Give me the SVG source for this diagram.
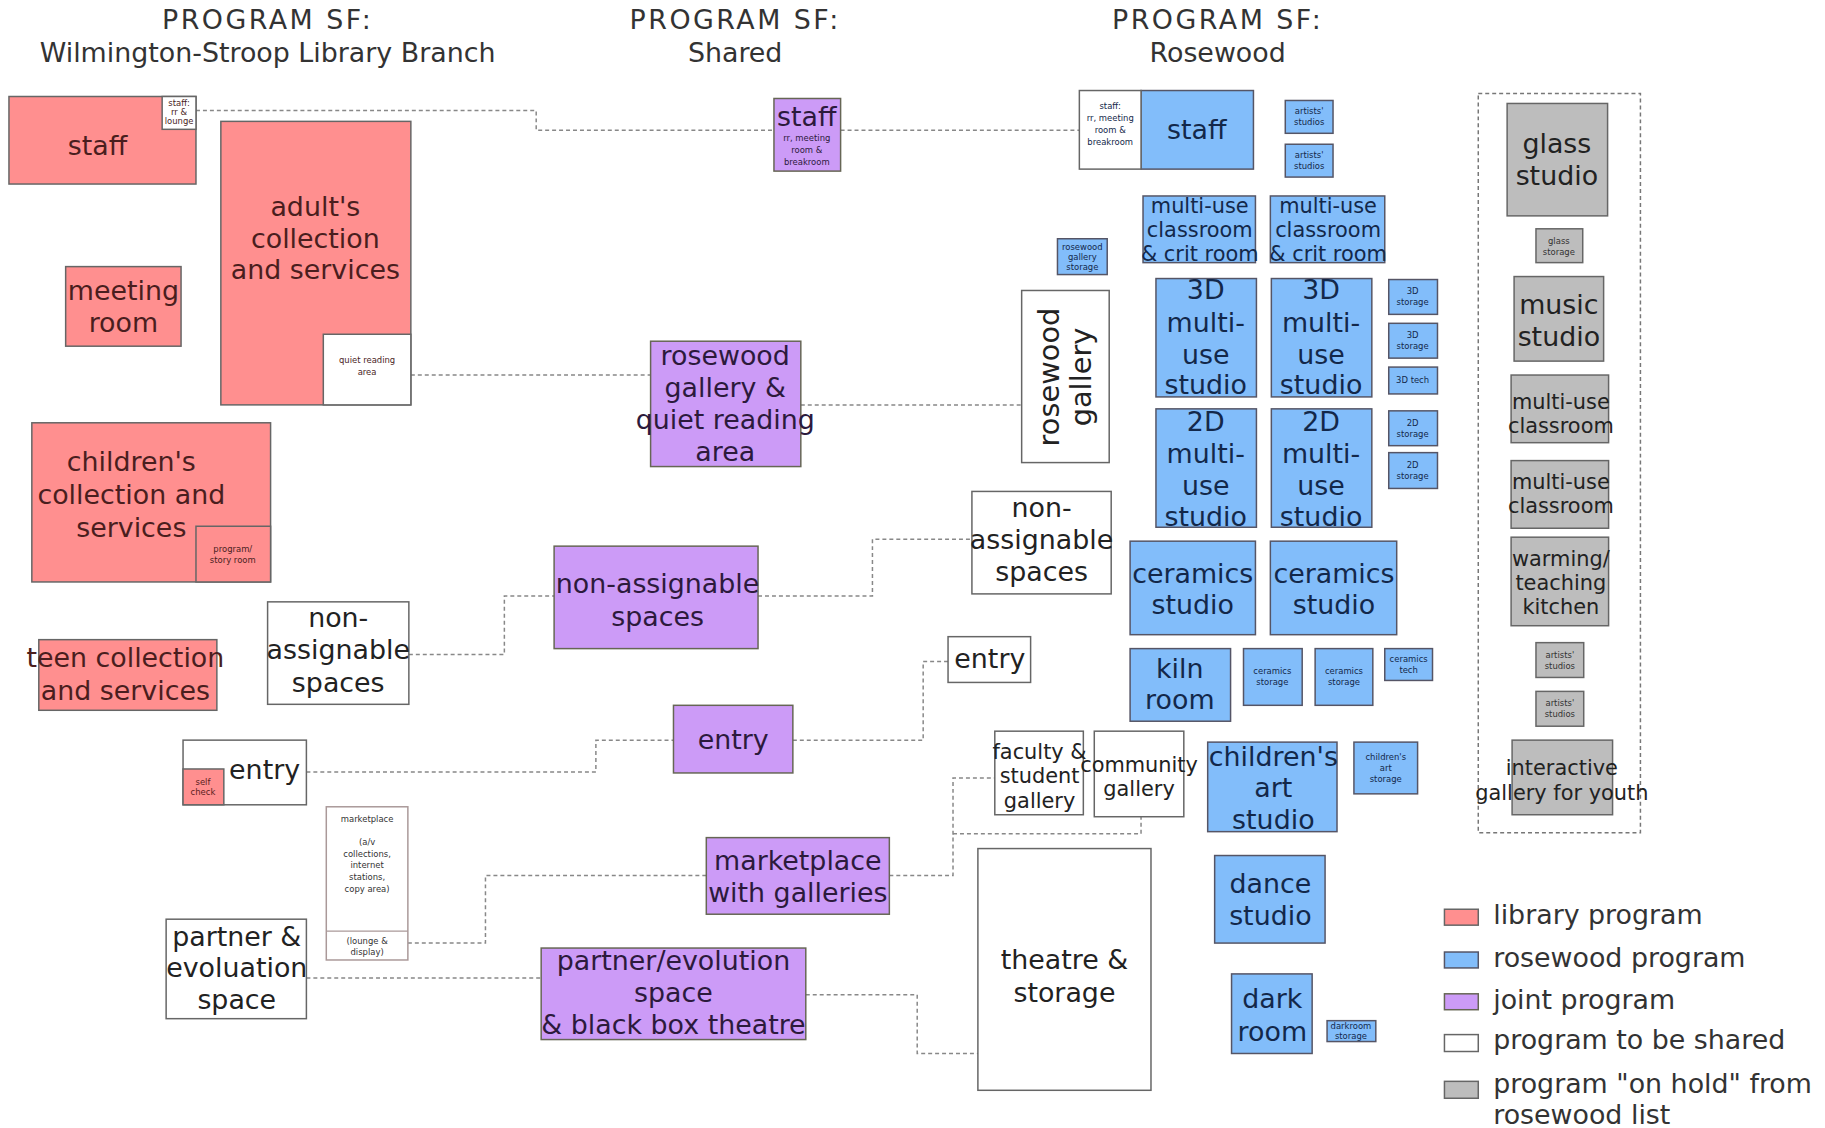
<svg xmlns="http://www.w3.org/2000/svg" width="1825" height="1128" viewBox="0 0 1825 1128">
<style>
text{font-family:"DejaVu Sans","Liberation Sans",sans-serif;text-anchor:middle;dominant-baseline:central;fill:#222}
.h{font-size:27px;fill:#333}
.hp{letter-spacing:2.5px}
.b{font-size:27px}
.m{font-size:21px}
.s{font-size:8.5px;fill:#333}
.lg{font-size:27px;text-anchor:start;dominant-baseline:alphabetic;fill:#333}
.lib{fill:#ff8f8f;stroke:#666;stroke-width:1.5}
.ros{fill:#82bdfa;stroke:#556;stroke-width:1.5}
.joi{fill:#cc9bf7;stroke:#665;stroke-width:1.5}
.sh{fill:#fff;stroke:#666;stroke-width:1.5}
.gr{fill:#bdbdbd;stroke:#666;stroke-width:1.5}
.lt text{fill:#4a1e1e}
.rt text{fill:#13284a}
.pt text{fill:#2c1a3c}
.con{fill:none;stroke:#888;stroke-width:1.5;stroke-dasharray:4 3}
</style>
<g transform="scale(0.9948)">
<g id="headers">
<text class="h hp" x="269" y="20">PROGRAM SF:</text>
<text class="h" x="269" y="53">Wilmington-Stroop Library Branch</text>
<text class="h hp" x="739" y="20">PROGRAM SF:</text>
<text class="h" x="739" y="53">Shared</text>
<text class="h hp" x="1224" y="20">PROGRAM SF:</text>
<text class="h" x="1224" y="53">Rosewood</text>
</g>

<g id="connectors">
<polyline class="con" points="197,111 539,111 539,131 778,131"/>
<polyline class="con" points="845,131 1085,131"/>
<polyline class="con" points="413,377 654,377"/>
<polyline class="con" points="805,407 1027,407"/>
<polyline class="con" points="411,658 507,658 507,599 557,599"/>
<polyline class="con" points="762,599 877,599 877,542 977,542"/>
<polyline class="con" points="308,776 599,776 599,744 677,744"/>
<polyline class="con" points="797,744 928,744 928,665 953,665"/>
<polyline class="con" points="410,948 488,948 488,880 710,880"/>
<polyline class="con" points="894,880 958,880 958,782 1000,782"/>
<polyline class="con" points="958,838 1147,838 1147,821"/>
<polyline class="con" points="308,983 544,983"/>
<polyline class="con" points="810,1000 922,1000 922,1059 983,1059"/>
</g>

<!-- Library -->
<g id="lib-staff" class="lt">
<rect class="lib" x="9" y="97" width="188" height="88"/>
<rect class="sh" x="163" y="97" width="34" height="33"/>
<text class="s" x="180" y="104">staff:</text>
<text class="s" x="180" y="113">rr &amp;</text>
<text class="s" x="180" y="122">lounge</text>
<text class="b" x="98" y="146">staff</text>
</g>
<g id="lib-adult" class="lt">
<rect class="lib" x="222" y="122" width="191" height="285"/>
<rect class="sh" x="325" y="336" width="88" height="71"/>
<text class="s" x="369" y="362">quiet reading</text>
<text class="s" x="369" y="374">area</text>
<text class="b" x="317" y="208">adult's</text>
<text class="b" x="317" y="240">collection</text>
<text class="b" x="317" y="271">and services</text>
</g>
<g id="lib-meeting" class="lt">
<rect class="lib" x="66" y="268" width="116" height="80"/>
<text class="b" x="124" y="292">meeting</text>
<text class="b" x="124" y="324">room</text>
</g>
<g id="lib-children" class="lt">
<rect class="lib" x="32" y="425" width="240" height="160"/>
<rect class="lib" x="197" y="529" width="75" height="56"/>
<text class="s" x="234" y="552">program/</text>
<text class="s" x="234" y="563">story room</text>
<text class="b" x="132" y="464">children's</text>
<text class="b" x="132" y="497">collection and</text>
<text class="b" x="132" y="530">services</text>
</g>
<g id="lib-teen" class="lt">
<rect class="lib" x="39" y="643" width="179" height="71"/>
<text class="b" x="126" y="661">teen collection</text>
<text class="b" x="126" y="694">and services</text>
</g>
<g id="lib-nonassign">
<rect class="sh" x="269" y="605" width="142" height="103"/>
<text class="b" x="340" y="621">non-</text>
<text class="b" x="340" y="653">assignable</text>
<text class="b" x="340" y="686">spaces</text>
</g>
<g id="lib-entry">
<rect class="sh" x="184" y="744" width="124" height="65"/>
<rect class="lib" x="184" y="773" width="41" height="36"/>
<text class="s" x="204" y="786" style="fill:#5a2020">self</text>
<text class="s" x="204" y="796" style="fill:#5a2020">check</text>
<text class="b" x="266" y="774">entry</text>
</g>
<g id="lib-marketplace">
<rect x="328" y="811" width="82" height="154" fill="#fff" stroke="#a99" stroke-width="1.5"/>
<line x1="328" y1="936" x2="410" y2="936" stroke="#a99" stroke-width="1.2"/>
<text class="s" x="369" y="823">marketplace</text>
<text class="s" x="369" y="846">(a/v</text>
<text class="s" x="369" y="858">collections,</text>
<text class="s" x="369" y="870">internet</text>
<text class="s" x="369" y="882">stations,</text>
<text class="s" x="369" y="894">copy area)</text>
<text class="s" x="369" y="946">(lounge &amp;</text>
<text class="s" x="369" y="957">display)</text>
</g>
<g id="lib-partner">
<rect class="sh" x="167" y="924" width="141" height="100"/>
<text class="b" x="238" y="941">partner &amp;</text>
<text class="b" x="238" y="973">evoluation</text>
<text class="b" x="238" y="1005">space</text>
</g>

<!-- Shared -->
<g id="sh-staff" class="pt">
<rect class="joi" x="778" y="99" width="67" height="73"/>
<text class="b" x="811" y="117">staff</text>
<text class="s" x="811" y="139">rr, meeting</text>
<text class="s" x="811" y="151">room &amp;</text>
<text class="s" x="811" y="163">breakroom</text>
</g>
<g id="sh-gallery" class="pt">
<rect class="joi" x="654" y="343" width="151" height="126"/>
<text class="b" x="729" y="357">rosewood</text>
<text class="b" x="729" y="390">gallery &amp;</text>
<text class="b" x="729" y="422">quiet reading</text>
<text class="b" x="729" y="454">area</text>
</g>
<g id="sh-nonassign" class="pt">
<rect class="joi" x="557" y="549" width="205" height="103"/>
<text class="b" x="661" y="587">non-assignable</text>
<text class="b" x="661" y="620">spaces</text>
</g>
<g id="sh-entry" class="pt">
<rect class="joi" x="677" y="709" width="120" height="68"/>
<text class="b" x="737" y="743">entry</text>
</g>
<g id="sh-marketplace" class="pt">
<rect class="joi" x="710" y="842" width="184" height="77"/>
<text class="b" x="802" y="865">marketplace</text>
<text class="b" x="802" y="897">with galleries</text>
</g>
<g id="sh-partner" class="pt">
<rect class="joi" x="544" y="953" width="266" height="92"/>
<text class="b" x="677" y="966">partner/evolution</text>
<text class="b" x="677" y="998">space</text>
<text class="b" x="677" y="1030">&amp; black box theatre</text>
</g>

<!-- Rosewood -->
<g id="rw-staff" class="rt">
<rect class="ros" x="1147" y="91" width="113" height="79"/>
<rect class="sh" x="1085" y="91" width="62" height="79"/>
<text class="s" x="1116" y="107">staff:</text>
<text class="s" x="1116" y="119">rr, meeting</text>
<text class="s" x="1116" y="131">room &amp;</text>
<text class="s" x="1116" y="143">breakroom</text>
<text class="b" x="1203" y="130">staff</text>
</g>
<g id="rw-artists1" class="rt">
<rect class="ros" x="1292" y="101" width="48" height="33"/>
<text class="s" x="1316" y="112">artists'</text>
<text class="s" x="1316" y="123">studios</text>
</g>
<g id="rw-artists2" class="rt">
<rect class="ros" x="1292" y="145" width="48" height="33"/>
<text class="s" x="1316" y="156">artists'</text>
<text class="s" x="1316" y="167">studios</text>
</g>
<g id="rw-class1" class="rt">
<rect class="ros" x="1149" y="197" width="113" height="67"/>
<text class="m" x="1206" y="207">multi-use</text>
<text class="m" x="1206" y="231">classroom</text>
<text class="m" x="1206" y="255">&amp; crit room</text>
</g>
<g id="rw-class2" class="rt">
<rect class="ros" x="1277" y="197" width="115" height="67"/>
<text class="m" x="1335" y="207">multi-use</text>
<text class="m" x="1335" y="231">classroom</text>
<text class="m" x="1335" y="255">&amp; crit room</text>
</g>
<g id="rw-gallery-storage" class="rt">
<rect class="ros" x="1063" y="240" width="50" height="36"/>
<text class="s" x="1088" y="248">rosewood</text>
<text class="s" x="1088" y="258">gallery</text>
<text class="s" x="1088" y="268">storage</text>
</g>
<g id="rw-gallery">
<rect class="sh" x="1027" y="292" width="88" height="173"/>
<text class="b" style="font-size:29px" transform="translate(1054,379) rotate(-90)">rosewood</text>
<text class="b" style="font-size:29px" transform="translate(1087,379) rotate(-90)">gallery</text>
</g>
<g id="rw-3d1" class="rt">
<rect class="ros" x="1162" y="280" width="101" height="119"/>
<text class="b" x="1212" y="291">3D</text>
<text class="b" x="1212" y="324">multi-</text>
<text class="b" x="1212" y="356">use</text>
<text class="b" x="1212" y="387">studio</text>
</g>
<g id="rw-3d2" class="rt">
<rect class="ros" x="1278" y="280" width="101" height="119"/>
<text class="b" x="1328" y="291">3D</text>
<text class="b" x="1328" y="324">multi-</text>
<text class="b" x="1328" y="356">use</text>
<text class="b" x="1328" y="387">studio</text>
</g>
<g id="rw-2d1" class="rt">
<rect class="ros" x="1162" y="411" width="101" height="119"/>
<text class="b" x="1212" y="424">2D</text>
<text class="b" x="1212" y="456">multi-</text>
<text class="b" x="1212" y="488">use</text>
<text class="b" x="1212" y="519">studio</text>
</g>
<g id="rw-2d2" class="rt">
<rect class="ros" x="1278" y="411" width="101" height="119"/>
<text class="b" x="1328" y="424">2D</text>
<text class="b" x="1328" y="456">multi-</text>
<text class="b" x="1328" y="488">use</text>
<text class="b" x="1328" y="519">studio</text>
</g>
<g id="rw-3dstor1" class="rt">
<rect class="ros" x="1396" y="281" width="49" height="35"/>
<text class="s" x="1420" y="293">3D</text>
<text class="s" x="1420" y="304">storage</text>
</g>
<g id="rw-3dstor2" class="rt">
<rect class="ros" x="1396" y="325" width="49" height="35"/>
<text class="s" x="1420" y="337">3D</text>
<text class="s" x="1420" y="348">storage</text>
</g>
<g id="rw-3dtech" class="rt">
<rect class="ros" x="1396" y="369" width="49" height="27"/>
<text class="s" x="1420" y="382">3D tech</text>
</g>
<g id="rw-2dstor1" class="rt">
<rect class="ros" x="1396" y="413" width="49" height="35"/>
<text class="s" x="1420" y="425">2D</text>
<text class="s" x="1420" y="436">storage</text>
</g>
<g id="rw-2dstor2" class="rt">
<rect class="ros" x="1396" y="455" width="49" height="36"/>
<text class="s" x="1420" y="467">2D</text>
<text class="s" x="1420" y="478">storage</text>
</g>
<g id="rw-nonassign">
<rect class="sh" x="977" y="494" width="140" height="103"/>
<text class="b" x="1047" y="510">non-</text>
<text class="b" x="1047" y="542">assignable</text>
<text class="b" x="1047" y="574">spaces</text>
</g>
<g id="rw-ceramics1" class="rt">
<rect class="ros" x="1136" y="544" width="126" height="94"/>
<text class="b" x="1199" y="577">ceramics</text>
<text class="b" x="1199" y="608">studio</text>
</g>
<g id="rw-ceramics2" class="rt">
<rect class="ros" x="1277" y="544" width="127" height="94"/>
<text class="b" x="1341" y="577">ceramics</text>
<text class="b" x="1341" y="608">studio</text>
</g>
<g id="rw-entry">
<rect class="sh" x="953" y="640" width="83" height="46"/>
<text class="b" x="995" y="662">entry</text>
</g>
<g id="rw-kiln" class="rt">
<rect class="ros" x="1136" y="652" width="101" height="73"/>
<text class="b" x="1186" y="672">kiln</text>
<text class="b" x="1186" y="703">room</text>
</g>
<g id="rw-cerstor1" class="rt">
<rect class="ros" x="1250" y="652" width="59" height="57"/>
<text class="s" x="1279" y="675">ceramics</text>
<text class="s" x="1279" y="686">storage</text>
</g>
<g id="rw-cerstor2" class="rt">
<rect class="ros" x="1322" y="652" width="58" height="57"/>
<text class="s" x="1351" y="675">ceramics</text>
<text class="s" x="1351" y="686">storage</text>
</g>
<g id="rw-certech" class="rt">
<rect class="ros" x="1392" y="652" width="48" height="32"/>
<text class="s" x="1416" y="662">ceramics</text>
<text class="s" x="1416" y="673">tech</text>
</g>
<g id="rw-faculty">
<rect class="sh" x="1000" y="735" width="89" height="84"/>
<text class="m" x="1045" y="756">faculty &amp;</text>
<text class="m" x="1045" y="780">student</text>
<text class="m" x="1045" y="805">gallery</text>
</g>
<g id="rw-community">
<rect class="sh" x="1100" y="735" width="90" height="86"/>
<text class="m" x="1145" y="769">community</text>
<text class="m" x="1145" y="793">gallery</text>
</g>
<g id="rw-childart" class="rt">
<rect class="ros" x="1214" y="746" width="130" height="90"/>
<text class="b" x="1280" y="760">children's</text>
<text class="b" x="1280" y="792">art</text>
<text class="b" x="1280" y="824">studio</text>
</g>
<g id="rw-childstor" class="rt">
<rect class="ros" x="1361" y="746" width="64" height="52"/>
<text class="s" x="1393" y="761">children's</text>
<text class="s" x="1393" y="772">art</text>
<text class="s" x="1393" y="783">storage</text>
</g>
<g id="rw-theatre">
<rect class="sh" x="983" y="853" width="174" height="243"/>
<text class="b" x="1070" y="965">theatre &amp;</text>
<text class="b" x="1070" y="998">storage</text>
</g>
<g id="rw-dance" class="rt">
<rect class="ros" x="1221" y="860" width="111" height="88"/>
<text class="b" x="1277" y="888">dance</text>
<text class="b" x="1277" y="920">studio</text>
</g>
<g id="rw-dark" class="rt">
<rect class="ros" x="1238" y="979" width="81" height="80"/>
<text class="b" x="1279" y="1004">dark</text>
<text class="b" x="1279" y="1037">room</text>
</g>
<g id="rw-darkstor" class="rt">
<rect class="ros" x="1334" y="1026" width="49" height="21"/>
<text class="s" x="1358" y="1031">darkroom</text>
<text class="s" x="1358" y="1041">storage</text>
</g>

<!-- On hold -->
<g id="onhold-frame">
<rect x="1486" y="94" width="163" height="743" fill="none" stroke="#777" stroke-width="1.5" stroke-dasharray="4 3"/>
</g>
<g id="oh-glass">
<rect class="gr" x="1515" y="104" width="101" height="113"/>
<text class="b" x="1565" y="144">glass</text>
<text class="b" x="1565" y="176">studio</text>
</g>
<g id="oh-glassstor">
<rect class="gr" x="1544" y="230" width="47" height="34"/>
<text class="s" x="1567" y="242">glass</text>
<text class="s" x="1567" y="253">storage</text>
</g>
<g id="oh-music">
<rect class="gr" x="1522" y="278" width="90" height="85"/>
<text class="b" x="1567" y="306">music</text>
<text class="b" x="1567" y="338">studio</text>
</g>
<g id="oh-class1">
<rect class="gr" x="1519" y="377" width="98" height="68"/>
<text class="m" x="1569" y="404">multi-use</text>
<text class="m" x="1569" y="428">classroom</text>
</g>
<g id="oh-class2">
<rect class="gr" x="1519" y="463" width="98" height="68"/>
<text class="m" x="1569" y="485">multi-use</text>
<text class="m" x="1569" y="509">classroom</text>
</g>
<g id="oh-kitchen">
<rect class="gr" x="1519" y="540" width="98" height="89"/>
<text class="m" x="1569" y="562">warming/</text>
<text class="m" x="1569" y="586">teaching</text>
<text class="m" x="1569" y="610">kitchen</text>
</g>
<g id="oh-artists1">
<rect class="gr" x="1544" y="646" width="48" height="35"/>
<text class="s" x="1568" y="658">artists'</text>
<text class="s" x="1568" y="669">studios</text>
</g>
<g id="oh-artists2">
<rect class="gr" x="1544" y="695" width="48" height="35"/>
<text class="s" x="1568" y="707">artists'</text>
<text class="s" x="1568" y="718">studios</text>
</g>
<g id="oh-youth">
<rect class="gr" x="1520" y="744" width="101" height="75"/>
<text class="m" x="1570" y="772">interactive</text>
<text class="m" x="1570" y="797">gallery for youth</text>
</g>

<!-- Legend -->
<g id="legend">
<rect class="lib" x="1452" y="914" width="34" height="16"/>
<text class="lg" x="1501" y="929">library program</text>
<rect class="ros" x="1452" y="957" width="34" height="16"/>
<text class="lg" x="1501" y="972">rosewood program</text>
<rect class="joi" x="1452" y="999" width="34" height="16"/>
<text class="lg" x="1501" y="1014">joint program</text>
<rect class="sh" x="1452" y="1040" width="34" height="17"/>
<text class="lg" x="1501" y="1054">program to be shared</text>
<rect class="gr" x="1452" y="1087" width="34" height="17"/>
<text class="lg" x="1501" y="1099">program "on hold" from</text>
<text class="lg" x="1501" y="1130">rosewood list</text>
</g>
</g>
</svg>
